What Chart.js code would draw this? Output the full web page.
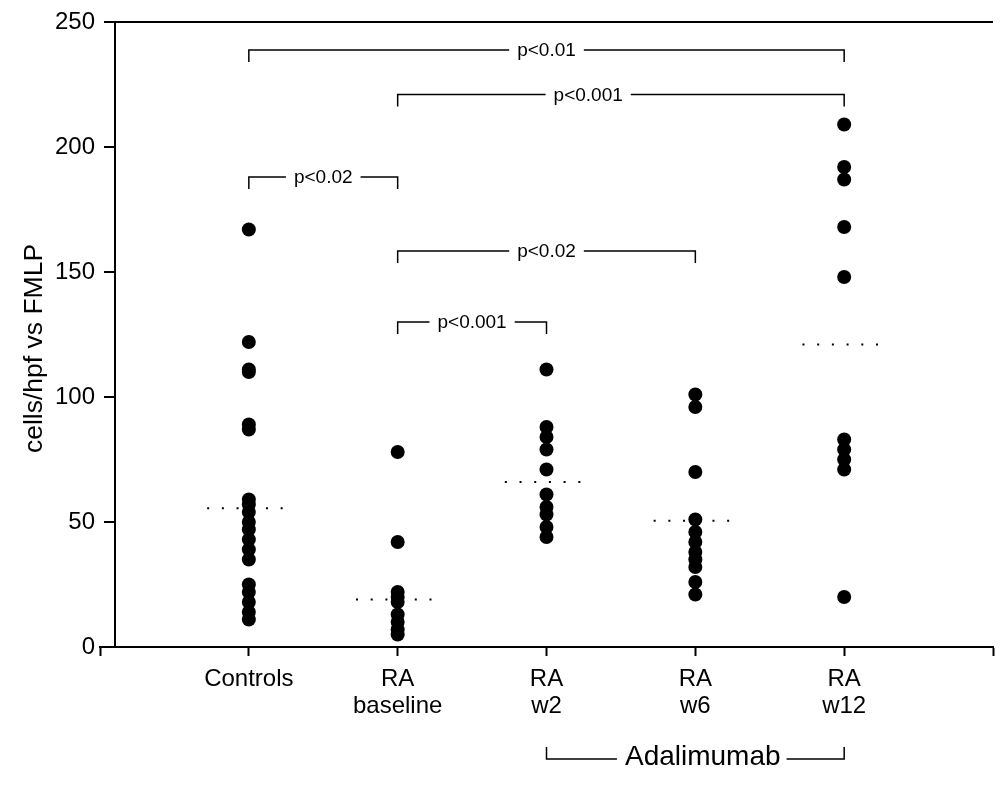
<!DOCTYPE html>
<html>
<head>
<meta charset="utf-8">
<script src="https://cdn.jsdelivr.net/npm/chart.js@4/dist/chart.umd.min.js"></script>
<style>
  html, body { margin: 0; padding: 0; background: #fff; }
  #wrap { width: 1004px; height: 785px; }
</style>
</head>
<body>
<div id="wrap"><canvas id="chart" width="1004" height="785"></canvas></div>
<script>
// group labels on the x axis (positions 1..5)
const categories = [['Controls'], ['RA', 'baseline'], ['RA', 'w2'], ['RA', 'w6'], ['RA', 'w12']];

// cells/hpf vs FMLP, one array per group
const controls = [167, 122, 111, 110, 89, 87, 59, 57, 54, 50, 47, 43, 39, 35, 25, 22, 18, 14, 11];
const raBaseline = [78, 42, 22, 20, 18, 13, 10, 7, 5];
const raW2 = [111, 88, 84, 79, 71, 61, 56, 53, 48, 44];
const raW6 = [101, 96, 70, 51, 46, 42, 38, 35, 32, 26, 21];
const raW12 = [209, 192, 187, 168, 148, 83, 79, 75, 71, 20];
const medians = [55.5, 19, 66, 50.5, 121];

const yTicks = [0, 50, 100, 150, 200, 250];
const yTitle = 'cells/hpf vs FMLP';

// significance brackets
const pFrom = [1, 2, 1, 2, 2];
const pTo = [5, 5, 2, 4, 3];
const pLevel = [238.8, 221, 188, 158.4, 130];
const pLabel = ['p<0.01', 'p<0.001', 'p<0.02', 'p<0.02', 'p<0.001'];
const pLabelAt = [3, 3.28, 1.5, 3, 2.5];

// treatment group bracket under the axis
const groupFrom = 3;
const groupTo = 5;
const groupLabel = 'Adalimumab';
const groupLabelAt = 4.05;

const FONT = "'Liberation Sans', Arial, sans-serif";
const groups = [controls, raBaseline, raW2, raW6, raW12];

const dotSets = groups.map((vals, i) => ({
    type: 'scatter',
    data: vals.map(v => ({ x: i + 1, y: v })),
    backgroundColor: '#000',
    borderWidth: 0,
    pointRadius: 7,
    pointHoverRadius: 7
}));

const medianSets = medians.map((m, i) => ({
    type: 'line',
    data: [{ x: i + 1 - 0.28, y: m }, { x: i + 1 + 0.27, y: m }],
    borderColor: '#000',
    borderWidth: 2,
    borderDash: [2, 12.7],
    pointRadius: 0,
    fill: false
}));

const annotate = {
    id: 'annotate',
    afterDraw(chart) {
        const { ctx, chartArea, scales: { x, y } } = chart;
        ctx.save();
        ctx.strokeStyle = '#000';
        ctx.fillStyle = '#000';

        // y axis sits a little right of where the x axis starts
        const axisX = chartArea.left + 15;
        ctx.lineWidth = 2;
        ctx.beginPath();
        ctx.moveTo(axisX, chartArea.top);
        ctx.lineTo(axisX, chartArea.bottom);
        yTicks.forEach(t => {
            const py = y.getPixelForValue(t);
            ctx.moveTo(axisX - 11, py);
            ctx.lineTo(axisX, py);
        });
        // top frame line
        ctx.moveTo(axisX, chartArea.top);
        ctx.lineTo(chartArea.right, chartArea.top);
        ctx.stroke();

        // y axis title, a bit below the middle as in the original
        ctx.save();
        ctx.translate(35, (chartArea.top + chartArea.bottom) / 2 + 14);
        ctx.rotate(-Math.PI / 2);
        ctx.font = '26.5px ' + FONT;
        ctx.textAlign = 'center';
        ctx.textBaseline = 'middle';
        ctx.fillText(yTitle, 0, 0);
        ctx.restore();

        // brackets with p values
        ctx.lineWidth = 1.5;
        ctx.font = '19px ' + FONT;
        ctx.textAlign = 'center';
        ctx.textBaseline = 'middle';
        pLabel.forEach((lab, i) => {
            const x1 = x.getPixelForValue(pFrom[i]);
            const x2 = x.getPixelForValue(pTo[i]);
            const py = y.getPixelForValue(pLevel[i]);
            const lx = x.getPixelForValue(pLabelAt[i]);
            const w = ctx.measureText(lab).width;
            ctx.beginPath();
            ctx.moveTo(x1, py + 12);
            ctx.lineTo(x1, py);
            ctx.lineTo(lx - w / 2 - 8, py);
            ctx.moveTo(lx + w / 2 + 8, py);
            ctx.lineTo(x2, py);
            ctx.lineTo(x2, py + 12);
            ctx.stroke();
            ctx.fillText(lab, lx, py + 1);
        });

        // Adalimumab bracket below the category labels
        const gy = chartArea.bottom + 112;
        const g1 = x.getPixelForValue(groupFrom);
        const g2 = x.getPixelForValue(groupTo);
        const gx = x.getPixelForValue(groupLabelAt);
        ctx.font = '28px ' + FONT;
        const gw = ctx.measureText(groupLabel).width;
        ctx.beginPath();
        ctx.moveTo(g1, gy - 12);
        ctx.lineTo(g1, gy);
        ctx.lineTo(gx - gw / 2 - 8, gy);
        ctx.moveTo(gx + gw / 2 + 6, gy);
        ctx.lineTo(g2, gy);
        ctx.lineTo(g2, gy - 12);
        ctx.stroke();
        ctx.fillText(groupLabel, gx, gy - 2);
        ctx.restore();
    }
};

new Chart(document.getElementById('chart'), {
    type: 'scatter',
    data: { datasets: [...dotSets, ...medianSets] },
    options: {
        responsive: false,
        animation: false,
        events: [],
        layout: { padding: { top: 22, right: 11, bottom: 0, left: 0 } },
        plugins: { legend: { display: false }, tooltip: { enabled: false } },
        scales: {
            x: {
                type: 'linear',
                min: 0,
                max: 6,
                afterFit: s => { s.height = 138; },
                ticks: {
                    stepSize: 1,
                    autoSkip: false,
                    maxRotation: 0,
                    color: '#000',
                    padding: 10,
                    font: { family: FONT, size: 24, lineHeight: 1.12 },
                    callback: v => categories[v - 1] || ''
                },
                grid: {
                    display: true,
                    drawOnChartArea: false,
                    drawTicks: true,
                    tickLength: 9,
                    tickColor: '#000',
                    tickWidth: 2
                },
                border: { display: true, color: '#000', width: 2 }
            },
            y: {
                min: 0,
                max: 250,
                afterFit: s => { s.width = 100; },
                afterBuildTicks: s => { s.ticks = yTicks.map(v => ({ value: v })); },
                ticks: {
                    color: '#000',
                    padding: 5,
                    font: { family: FONT, size: 24 }
                },
                grid: { display: false, drawTicks: false },
                border: { display: false }
            }
        }
    },
    plugins: [annotate]
});
</script>
</body>
</html>
